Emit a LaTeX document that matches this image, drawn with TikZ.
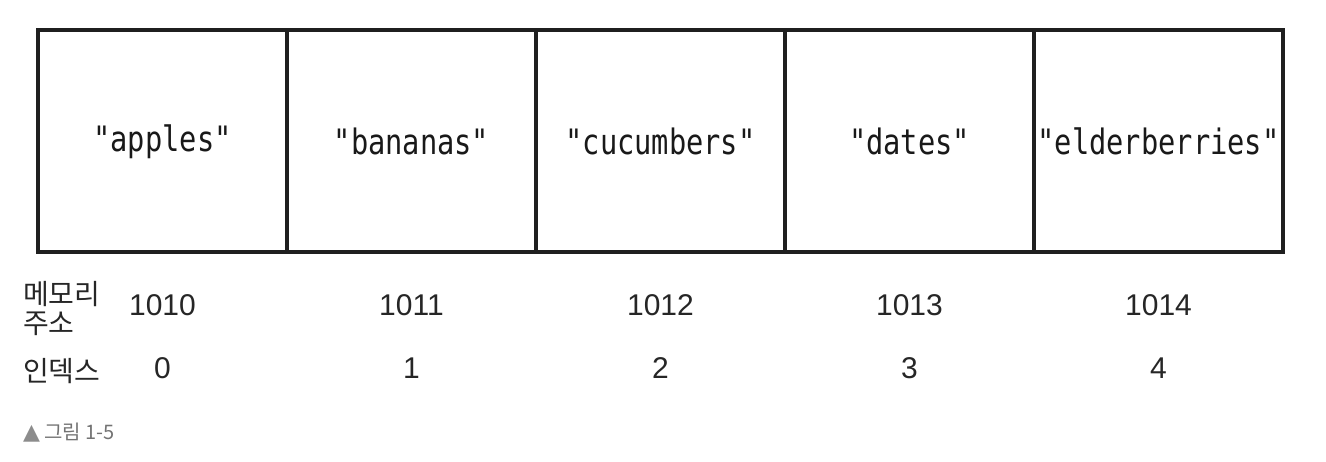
\documentclass[tikz,border=0pt]{standalone}
\usepackage{fontspec}
\setmainfont{Liberation Sans}
\newfontfamily\cellfont[FakeStretch=0.82]{DejaVu Sans Mono}
\newfontfamily\kr{Noto Sans CJK KR}
\newfontfamily\symfont{DejaVu Sans}
\begin{document}
\begin{tikzpicture}[x=1pt,y=-1pt,
  cell/.style={draw=black!88, line width=4pt, minimum width=249pt, minimum height=222pt, inner sep=0pt, outer sep=0pt, font=\cellfont\fontsize{35}{40}\selectfont, text=black!90},
  num/.style={font=\fontsize{30}{34}\selectfont, text=black!85, inner sep=0pt},
  lab/.style={font=\kr\fontsize{28}{29}\selectfont, text=black!85, inner sep=0pt, align=left, anchor=west},
  capstyle/.style={font=\kr\fontsize{20}{22}\selectfont, text=black!55, inner sep=0pt, anchor=west}]
\useasboundingbox (0,0) rectangle (1326,462);
\node[cell] (c1) at (162.5,141.5) {"apples"};
\node[cell] (c2) at (411.5,141.5) {"bananas"};
\node[cell] (c3) at (660.5,141.5) {"cucumbers"};
\node[cell] (c4) at (909.5,141.5) {"dates"};
\node[cell] (c5) at (1158.5,141.5) {"elderberries"};
\node[num] (a1) at (162.5,305) {1010};
\node[num] (a2) at (411.5,305) {1011};
\node[num] (a3) at (660.5,305) {1012};
\node[num] (a4) at (909.5,305) {1013};
\node[num] (a5) at (1158.5,305) {1014};
\node[num] (i1) at (162.5,368) {0};
\node[num] (i2) at (411.5,368) {1};
\node[num] (i3) at (660.5,368) {2};
\node[num] (i4) at (909.5,368) {3};
\node[num] (i5) at (1158.5,368) {4};
\node[lab] (mem) at (23,309) {메모리\\주소};
\node[lab] (idx) at (23,371) {인덱스};
\node[capstyle] (caption) at (23,433) {{\symfont\color{black!45}\fontsize{22}{22}\selectfont ▲} 그림 1-5};
\end{tikzpicture}
\end{document}
